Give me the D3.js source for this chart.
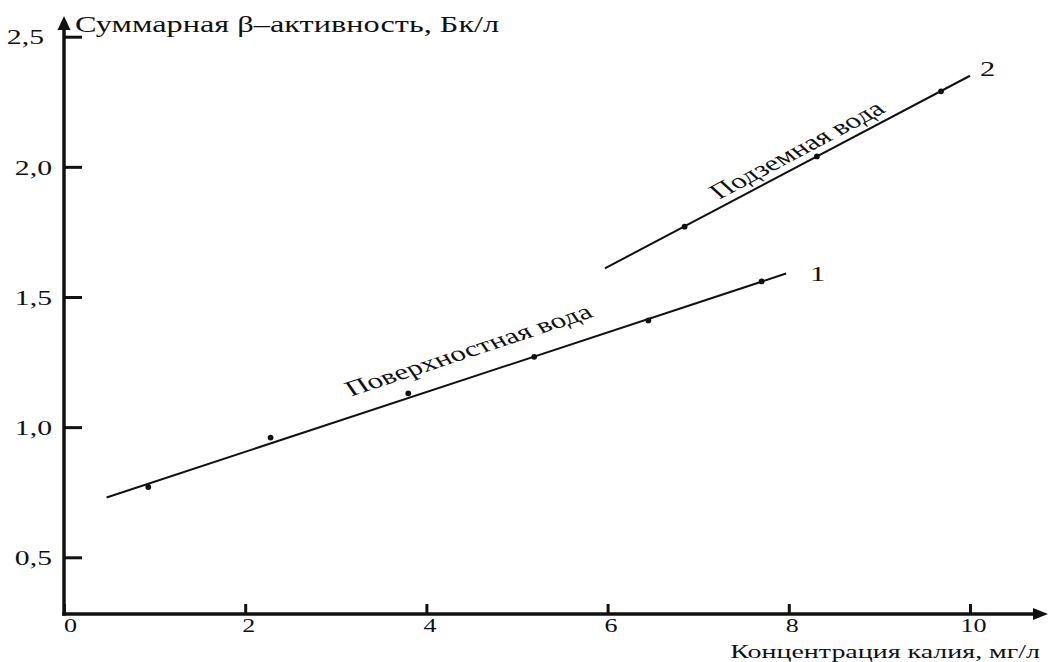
<!DOCTYPE html>
<html>
<head>
<meta charset="utf-8">
<script src="https://cdn.jsdelivr.net/npm/d3@7"></script>
<style>
  body { margin: 0; background: #fff; }
  svg { display: block; }
  text { font-family: "Liberation Serif", "Times New Roman", serif; fill: #111; }
</style>
</head>
<body>
<svg id="chart" width="1054" height="662"></svg>
<script>
// Total beta activity of water versus potassium concentration

const xTicks = [0, 2, 4, 6, 8, 10];
const xTickLabels = ["0", "2", "4", "6", "8", "10"];
const yTicks = [0.5, 1.0, 1.5, 2.0, 2.5];
const yTickLabels = ["0,5", "1,0", "1,5", "2,0", "2,5"];

// Curve 1 — surface water: measurements and fitted line
const surfaceK = [0.93, 2.28, 3.80, 5.19, 6.45, 7.70];
const surfaceBeta = [0.77, 0.96, 1.13, 1.27, 1.41, 1.56];
const surfaceFitK = [0.47, 7.97];
const surfaceFitBeta = [0.73, 1.59];

// Curve 2 — groundwater: measurements and fitted line
const groundK = [6.85, 8.31, 9.68];
const groundBeta = [1.77, 2.04, 2.29];
const groundFitK = [5.97, 10.0];
const groundFitBeta = [1.61, 2.35];

const seriesNames = ["Поверхностная вода", "Подземная вода"];
const seriesNumbers = ["1", "2"];
const seriesLabelAt = [4.43, 8.09];   // K value where each name sits along its line
const xTitle = "Концентрация калия, мг/л";
const yTitle = "Суммарная β–активность, Бк/л";

// ---- layout ----
const SX = 1.45;               // wide lettering of the figure
const originX = 64, originY = 614;
const ink = "#111";

const svg = d3.select("#chart");

const x = d3.scaleLinear().domain([0, 10]).range([originX, 970]);
const y = d3.scaleLinear().domain([0.5, 2.5]).range([557.3, 36.7]);

function wideText(g, str, tx, ty, size, anchor) {
  return g.append("text")
    .attr("transform", `translate(${tx},${ty}) scale(${SX},1)`)
    .attr("font-size", size)
    .attr("text-anchor", anchor || "start")
    .text(str);
}

// ---- axes lines with arrows ----
const axes = svg.append("g");
axes.append("line")
  .attr("x1", originX - 1.75).attr("y1", originY)
  .attr("x2", 1036).attr("y2", originY)
  .attr("stroke", ink).attr("stroke-width", 3.5);
axes.append("path")
  .attr("d", `M1048,${originY} L1033,${originY - 6} L1033,${originY + 6} Z`)
  .attr("fill", ink);
axes.append("line")
  .attr("x1", originX).attr("y1", originY + 1.75)
  .attr("x2", originX).attr("y2", 28)
  .attr("stroke", ink).attr("stroke-width", 3.5);
axes.append("path")
  .attr("d", `M${originX},16 L${originX - 6.5},30 L${originX + 6.5},30 Z`)
  .attr("fill", ink);

// ---- x axis ticks ----
const gx = svg.append("g")
  .attr("transform", `translate(0,${originY})`)
  .call(d3.axisBottom(x).tickValues(xTicks).tickSize(-10)
    .tickFormat((d, i) => xTickLabels[i]));
gx.select(".domain").remove();
gx.selectAll(".tick line").attr("stroke", ink).attr("stroke-width", 3);
gx.selectAll(".tick text")
  .attr("y", null).attr("dy", null)
  .attr("fill", ink)
  .attr("font-family", null)
  .attr("font-size", 18)
  .attr("transform", (d) => `translate(${d === 0 ? 6 : 3},18) scale(${SX},1)`);

// ---- y axis ticks ----
const gy = svg.append("g")
  .attr("transform", `translate(${originX},0)`)
  .call(d3.axisLeft(y).tickValues(yTicks).tickSize(-18)
    .tickFormat((d, i) => yTickLabels[i]));
gy.select(".domain").remove();
gy.selectAll(".tick line").attr("stroke", ink).attr("stroke-width", 3);
gy.selectAll(".tick text")
  .attr("x", null).attr("dy", "0.35em")
  .attr("fill", ink)
  .attr("font-family", null)
  .attr("font-size", 20.5)
  .attr("text-anchor", "end")
  .attr("transform", (d, i) =>
    `translate(${i === yTicks.length - 1 ? -20 : -12},0) scale(${SX},1)`);

// ---- axis titles ----
wideText(svg, yTitle, 75, 32, 22.3, "start");
wideText(svg, xTitle, 1040, 658, 19.3, "end");

// ---- series ----
const series = [
  { fitK: surfaceFitK, fitB: surfaceFitBeta, k: surfaceK, b: surfaceBeta,
    nameOffset: 24, numDx: 24, numDy: 7 },
  { fitK: groundFitK, fitB: groundFitBeta, k: groundK, b: groundBeta,
    nameOffset: 13, numDx: 10, numDy: 0 }
];

const line = d3.line().x(d => x(d[0])).y(d => y(d[1]));
const plot = svg.append("g");

series.forEach((s, i) => {
  const fit = d3.zip(s.fitK, s.fitB);
  plot.append("path")
    .attr("d", line(fit))
    .attr("fill", "none")
    .attr("stroke", ink)
    .attr("stroke-width", 2);

  plot.selectAll(null)
    .data(d3.zip(s.k, s.b))
    .join("circle")
    .attr("cx", d => x(d[0]))
    .attr("cy", d => y(d[1]))
    .attr("r", 2.9)
    .attr("fill", ink);

  // name along the line
  const x0 = x(s.fitK[0]), y0 = y(s.fitB[0]);
  const x1 = x(s.fitK[1]), y1 = y(s.fitB[1]);
  const m = (y1 - y0) / (x1 - x0);
  const kAt = seriesLabelAt[i];
  const bAt = s.fitB[0] + (s.fitB[1] - s.fitB[0]) * (kAt - s.fitK[0]) / (s.fitK[1] - s.fitK[0]);
  const px = x(kAt), py = y(bAt);
  const ang = Math.atan(m);                     // on-screen angle
  const nx = Math.sin(ang), ny = -Math.cos(ang); // normal pointing up-left
  const localDeg = Math.atan(m * SX) * 180 / Math.PI;
  plot.append("text")
    .attr("transform",
      `translate(${px - nx * s.nameOffset},${py + ny * s.nameOffset}) scale(${SX},1) rotate(${localDeg})`)
    .attr("font-size", 21.5)
    .attr("text-anchor", "middle")
    .text(seriesNames[i]);

  // curve number at the line end
  wideText(plot, seriesNumbers[i], x1 + s.numDx, y1 + s.numDy, 21, "start");
});
</script>
</body>
</html>
